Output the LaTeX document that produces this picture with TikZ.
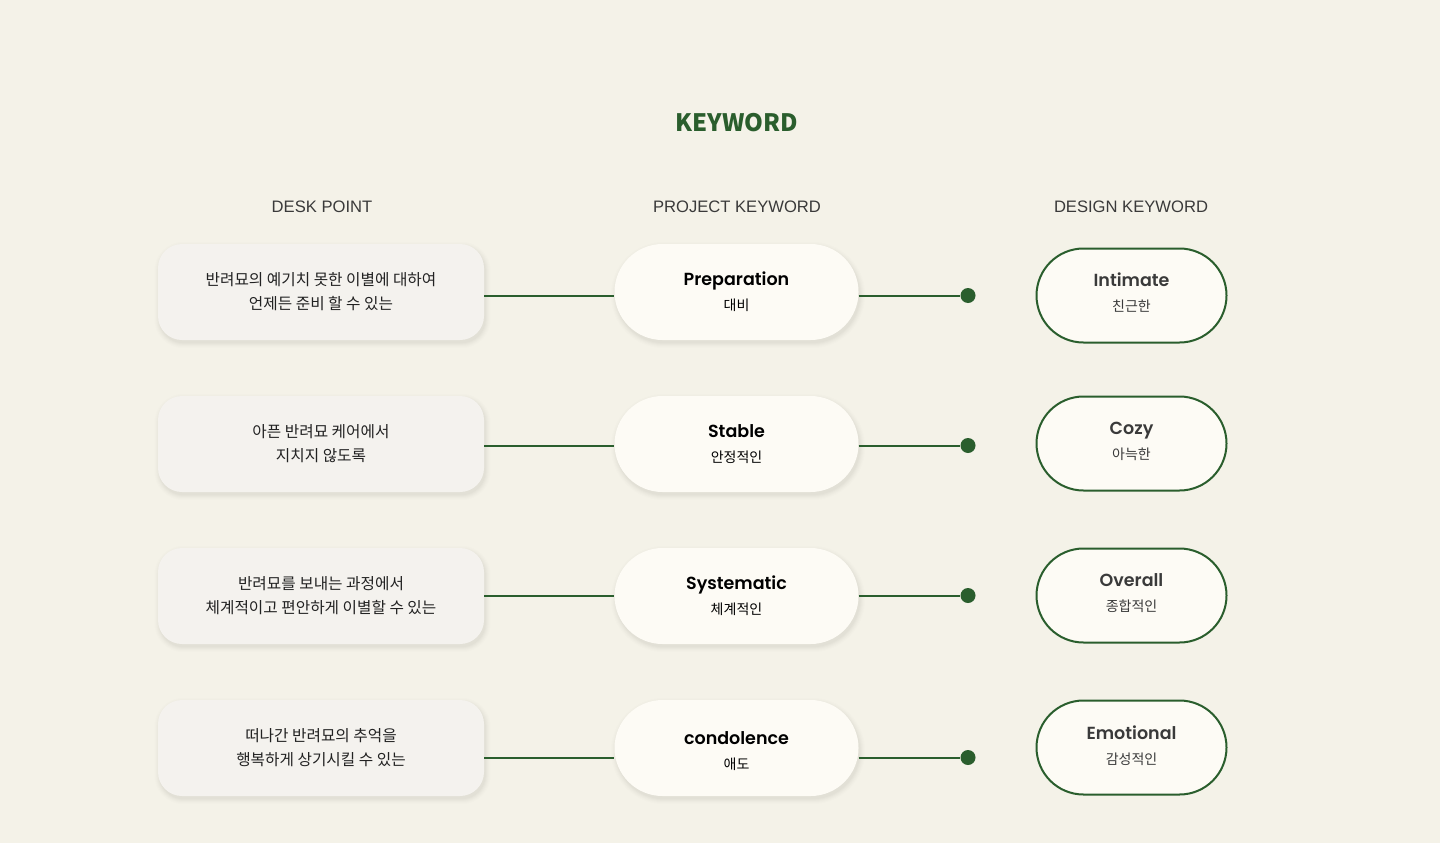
\documentclass[tikz,border=0pt]{standalone}
\usepackage{fontspec}
\newfontfamily\kr{Noto Sans CJK KR}
\newfontfamily\pop{Poppins}[BoldFont={Poppins SemiBold}]
\newfontfamily\hdr{Liberation Sans}
\definecolor{bg}{HTML}{F4F2E8}
\definecolor{grn}{HTML}{2A5E2D}
\definecolor{lbox}{HTML}{F4F2EE}
\definecolor{mbox}{HTML}{FDFBF5}
\definecolor{txt}{HTML}{222222}
\definecolor{hdrc}{HTML}{3A3A3A}
\pgfdeclarelayer{bglayer}
\pgfdeclarelayer{shadowlayer}
\pgfsetlayers{bglayer,shadowlayer,main}
\tikzset{
  leftbox/.style={fill=lbox, rounded corners=24bp, minimum width=326bp, minimum height=96bp,
    align=center, font=\kr\fontsize{15.7bp}{24bp}\selectfont, text=txt},
  midbox/.style={fill=mbox, rounded corners=48bp, minimum width=244bp, minimum height=96bp,
    align=center, text=black, font=\fontsize{14bp}{25bp}\selectfont},
  rightbox/.style={fill=mbox, draw=grn, line width=2bp, rounded corners=47bp, minimum width=190bp, minimum height=94bp},
  righttext/.style={align=center, text=hdrc, font=\fontsize{14bp}{25bp}\selectfont},
  conn/.style={draw=grn, line width=2bp},
  dotnode/.style={circle, fill=grn, inner sep=0pt, minimum size=15bp},
  colhead/.style={font=\hdr\fontsize{16.6bp}{18bp}\selectfont, text=hdrc},
}
\newcommand{\kwtitle}[2]{{\pop\bfseries\fontsize{17.5bp}{25bp}\selectfont #1}\\{\kr\fontsize{14bp}{25bp}\selectfont #2}}
% soft shadow behind a named node: #1 node, #2 corner radius
\newcommand{\softsh}[2]{%
  \begin{pgfonlayer}{shadowlayer}
  \foreach \e/\o in {5/0.008,4/0.009,3/0.01,2/0.012,1/0.014,0/0.016}{%
    \pgfmathsetmacro{\rr}{#2+\e}%
    \fill[black, opacity=\o, rounded corners=\rr bp] ([shift={(1.5-\e,3-\e)}]#1.north west) rectangle ([shift={(1.5+\e,3+\e)}]#1.south east);
  }
  \end{pgfonlayer}}
\begin{document}
\begin{tikzpicture}[x=1bp, y=-1bp]
\useasboundingbox (0,0) rectangle (1440,843);
\begin{pgfonlayer}{bglayer}
\fill[bg] (0,0) rectangle (1440,843);
\end{pgfonlayer}

\node[font=\kr\bfseries\fontsize{24bp}{30bp}\selectfont, text=grn] (title) at (737,123) {KEYWORD};
\node[colhead] (h1) at (322,207) {DESK POINT};
\node[colhead] (h2) at (737,207) {PROJECT KEYWORD};
\node[colhead] (h3) at (1131,207) {DESIGN KEYWORD};

% left boxes
\node[leftbox] (l1) at (321,292) {반려묘의 예기치 못한 이별에 대하여\\언제든 준비 할 수 있는};
\node[leftbox] (l2) at (321,444) {아픈 반려묘 케어에서\\지치지 않도록};
\node[leftbox] (l3) at (321,596) {반려묘를 보내는 과정에서\\체계적이고 편안하게 이별할 수 있는};
\node[leftbox] (l4) at (321,748) {떠나간 반려묘의 추억을\\행복하게 상기시킬 수 있는};

% middle pills
\node[midbox] (m1) at (736.5,292) {\kwtitle{Preparation}{대비}};
\node[midbox] (m2) at (736.5,444) {\kwtitle{Stable}{안정적인}};
\node[midbox] (m3) at (736.5,596) {\kwtitle{Systematic}{체계적인}};
\node[midbox] (m4) at (736.5,748) {};
\node[align=center, font=\fontsize{14bp}{25bp}\selectfont] (m4t) at (736.5,751) {\kwtitle{condolence}{애도}};

\softsh{l1}{24}\softsh{l2}{24}\softsh{l3}{24}\softsh{l4}{24}
\softsh{m1}{48}\softsh{m2}{48}\softsh{m3}{48}\softsh{m4}{48}

% dots
\node[dotnode] (d1) at (968,295.5) {};
\node[dotnode] (d2) at (968,445.5) {};
\node[dotnode] (d3) at (968,595.5) {};
\node[dotnode] (d4) at (968,757.5) {};

% right pills
\node[rightbox] (r1) at (1131.5,295.5) {};
\node[rightbox] (r2) at (1131.5,443.5) {};
\node[rightbox] (r3) at (1131.5,595.5) {};
\node[rightbox] (r4) at (1131.5,747.5) {};
\node[righttext] (r1t) at (1131.5,292.5) {\kwtitle{Intimate}{친근한}};
\node[righttext] (r2t) at (1131.5,441.5) {\kwtitle{Cozy}{아늑한}};
\node[righttext] (r3t) at (1131.5,593.5) {\kwtitle{Overall}{종합적인}};
\node[righttext] (r4t) at (1131.5,745.5) {\kwtitle{Emotional}{감성적인}};

% connectors
\draw[conn] (l1.east |- d1) -- (m1.west |- d1);
\draw[conn] (l2.east |- d2) -- (m2.west |- d2);
\draw[conn] (l3.east |- d3) -- (m3.west |- d3);
\draw[conn] (l4.east |- d4) -- (m4.west |- d4);
\draw[conn] (m1.east |- d1) -- (d1);
\draw[conn] (m2.east |- d2) -- (d2);
\draw[conn] (m3.east |- d3) -- (d3);
\draw[conn] (m4.east |- d4) -- (d4);
\end{tikzpicture}
\end{document}
